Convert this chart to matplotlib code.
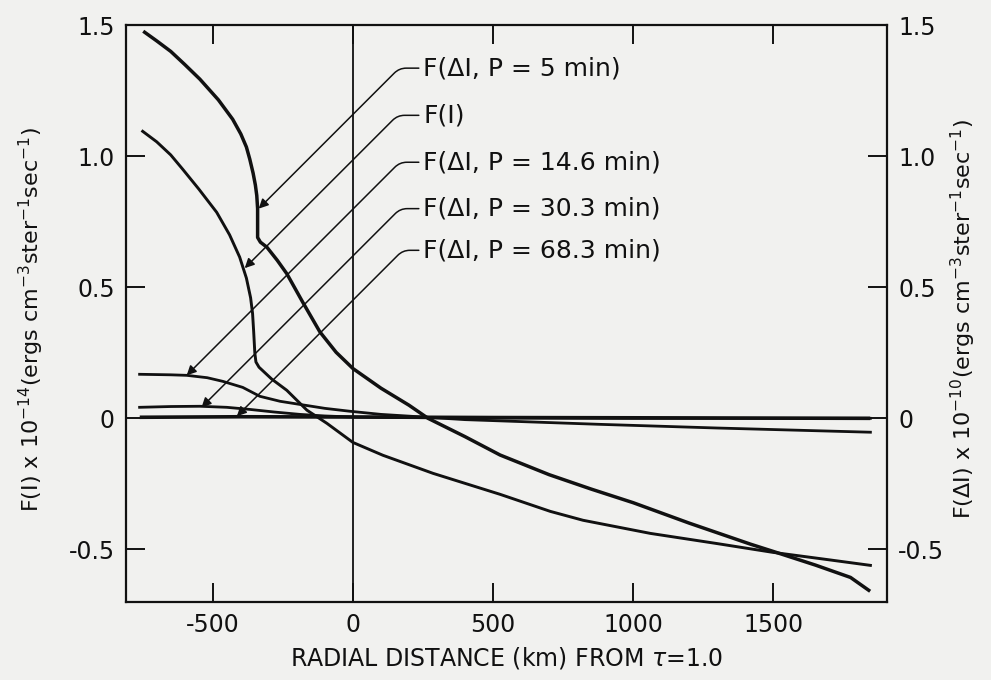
import matplotlib
matplotlib.use('Agg')
from matplotlib import pyplot as plt

# F(dI, P=5 min)
x_5min = [-743, -700, -650, -600, -546, -480, -429, -400, -380, -368, -356, -348, -343, -340, -340, -330,
          -307, -270, -236, -179, -118, -60, 0, 100, 200, 268, 400, 525, 700, 850, 1000, 1200, 1418, 1500,
          1650, 1775, 1840]
y_5min = [1.473, 1.44, 1.40, 1.35, 1.294, 1.215, 1.141, 1.085, 1.035, 0.989, 0.935, 0.89, 0.85, 0.80,
          0.69, 0.672, 0.653, 0.603, 0.552, 0.443, 0.33, 0.252, 0.19, 0.115, 0.05, 0.0, -0.07, -0.14,
          -0.215, -0.27, -0.322, -0.40, -0.48, -0.508, -0.56, -0.607, -0.656]

# F(I)
x_fi = [-750, -700, -650, -607, -550, -486, -440, -404, -380, -365, -358, -354, -350, -346, -335, -290,
        -236, -164, -93, 0, 107, 286, 525, 704, 821, 1061, 1300, 1496, 1700, 1846]
y_fi = [1.095, 1.055, 1.005, 0.95, 0.875, 0.786, 0.70, 0.615, 0.535, 0.46, 0.40, 0.33, 0.25, 0.215,
        0.195, 0.15, 0.107, 0.031, -0.019, -0.092, -0.141, -0.21, -0.29, -0.355, -0.389, -0.439, -0.478,
        -0.511, -0.54, -0.561]

# F(dI, P=14.6 min)
x_146 = [-761, -650, -593, -520, -464, -393, -332, -260, -189, -100, -11, 100, 250, 400, 882, 1300, 1846]
y_146 = [0.168, 0.166, 0.164, 0.155, 0.141, 0.118, 0.084, 0.065, 0.053, 0.038, 0.027, 0.015, 0.005,
         -0.005, -0.023, -0.037, -0.053]

# F(dI, P=30.3 min)
x_303 = [-761, -650, -546, -450, -368, -280, -189, -100, 0, 300, 1000, 1846]
y_303 = [0.042, 0.045, 0.046, 0.042, 0.034, 0.024, 0.015, 0.009, 0.005, 0.002, 0.0, 0.0]

# F(dI, P=68.3 min)
x_683 = [-754, -400, 0, 500, 1000, 1839]
y_683 = [0.004, 0.006, 0.005, 0.003, 0.002, 0.0]

labels = ['F(ΔI, P = 5 min)', 'F(I)', 'F(ΔI, P = 14.6 min)', 'F(ΔI, P = 30.3 min)', 'F(ΔI, P = 68.3 min)']
label_y = [1.336, 1.156, 0.977, 0.80, 0.641]
arrow_tips = [(-336, 0.80), (-386, 0.573), (-593, 0.164), (-540, 0.042), (-414, 0.008)]

xticks = [-500, 0, 500, 1000, 1500]
xtick_labels = ['-500', '0', '500', '1000', '1500']
yticks = [-0.5, 0, 0.5, 1.0, 1.5]
ytick_labels = ['-0.5', '0', '0.5', '1.0', '1.5']

plt.rcParams['font.family'] = ['DejaVu Sans']
ink = '#111111'
bg = '#f1f1ef'

fig = plt.figure(figsize=(9.91, 6.8), dpi=100, facecolor=bg)
ax = fig.add_axes([0.127, 0.115, 0.768, 0.848], facecolor=bg)

ax.plot(x_5min, y_5min, color=ink, lw=2.5, solid_joinstyle='round')
ax.plot(x_fi, y_fi, color=ink, lw=2.1, solid_joinstyle='round')
ax.plot(x_146, y_146, color=ink, lw=2.0)
ax.plot(x_303, y_303, color=ink, lw=2.0)
ax.plot(x_683, y_683, color=ink, lw=2.6)
ax.axvline(0, color=ink, lw=1.3)

for lab, ly, tip in zip(labels, label_y, arrow_tips):
    ax.annotate(lab, xy=tip, xytext=(250, ly), ha='left', va='center', fontsize=18, color=ink,
                arrowprops=dict(arrowstyle='-|>', color=ink, lw=1.1, mutation_scale=14,
                                shrinkA=1, shrinkB=0,
                                connectionstyle='angle,angleA=0,angleB=45,rad=7'))

ax.set_xlim(-810, 1905)
ax.set_ylim(-0.70, 1.50)
ax.set_xticks(xticks)
ax.set_xticklabels(xtick_labels)
ax.set_yticks(yticks)
ax.set_yticklabels(ytick_labels)
ax.tick_params(direction='in', length=14, width=1.4, top=True, right=True, labelright=True,
               labelsize=17, colors=ink, pad=8)

for sp in ax.spines.values():
    sp.set_linewidth(1.6)
    sp.set_color(ink)

ax.set_xlabel('RADIAL DISTANCE (km) FROM $\\tau$=1.0', fontsize=17, color=ink, labelpad=6)
ax.set_ylabel('F(I) x 10$^{-14}$(ergs cm$^{-3}$ster$^{-1}$sec$^{-1}$)', fontsize=16, color=ink)
ax.yaxis.set_label_coords(-0.105, 0.49)
ax.text(1.1, 0.49, 'F(ΔI) x 10$^{-10}$(ergs cm$^{-3}$ster$^{-1}$sec$^{-1}$)', transform=ax.transAxes,
        rotation=90, ha='center', va='center', fontsize=16, color=ink)

fig.savefig('out.png', dpi=100, facecolor=bg)
